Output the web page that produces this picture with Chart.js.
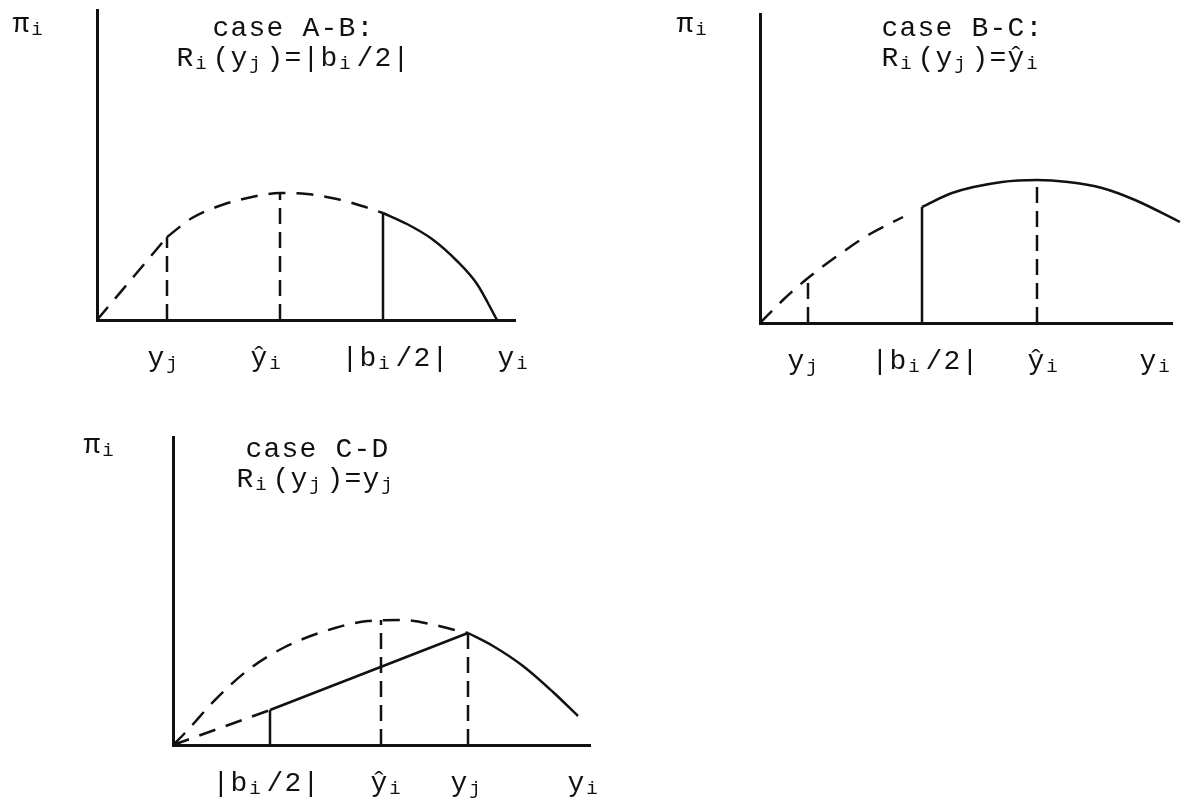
<!DOCTYPE html>
<html lang="en">
<head>
    <meta charset="UTF-8">
    <title>Profit cases A-B, B-C, C-D</title>
    <script src="https://cdn.jsdelivr.net/npm/chart.js"></script>
    <style>
        body { margin: 0; background: #fff; overflow: hidden; }
        canvas { position: absolute; }
    </style>
</head>
<body>
    <canvas id="caseAB" width="598" height="400" style="left:0;top:0"></canvas>
    <canvas id="caseBC" width="598" height="400" style="left:598px;top:0"></canvas>
    <canvas id="caseCD" width="598" height="401" style="left:0;top:400px"></canvas>

    <script>
        // case A-B: R_i(y_j) = |b_i/2|
        const aLabels = ['y_j', 'ŷ_i', '|b_i/2|', 'y_i'];
        const aLabelAt = [6.8, 17.1, 29.8, 41.8];
        const aRayX = [0, 7.0];
        const aRayY = [0, 8.3];
        const aDashX = [7.0, 9.5, 12.5, 15.5, 18.3, 21.0, 24.0, 26.5, 28.6];
        const aDashY = [8.3, 10.2, 11.5, 12.3, 12.7, 12.6, 12.1, 11.4, 10.7];
        const aSolidX = [28.6, 31.0, 33.5, 36.0, 38.0, 40.0];
        const aSolidY = [10.7, 9.6, 8.1, 5.9, 3.6, 0];
        const aMarkX = [7.0, 18.3, 28.6];
        const aMarkY = [8.3, 12.7, 10.7];
        const aMarkSolid = [false, false, true];

        // case B-C: R_i(y_j) = ŷ_i
        const bLabels = ['y_j', '|b_i/2|', 'ŷ_i', 'y_i'];
        const bLabelAt = [4.5, 16.5, 28.5, 39.7];
        const bDashX = [0, 2.4, 4.8, 8.0, 11.0, 14.3];
        const bDashY = [0, 2.4, 4.5, 6.9, 8.9, 10.6];
        const bSolidX = [16.2, 19.2, 24.2, 27.7, 30.8, 34.2, 37.5, 42.0];
        const bSolidY = [11.6, 13.0, 14.1, 14.3, 14.1, 13.5, 12.3, 10.1];
        const bMarkX = [4.8, 16.2, 27.7];
        const bMarkY = [4.5, 11.6, 14.3];
        const bMarkSolid = [false, true, false];

        // case C-D: R_i(y_j) = y_j
        const cLabels = ['|b_i/2|', 'ŷ_i', 'y_j', 'y_i'];
        const cLabelAt = [9.3, 21.5, 29.5, 41.2];
        const cDashX = [0, 1.2, 4.2, 7.5, 11.2, 16.2, 19.5, 22.9, 26.2, 28.2, 29.5];
        const cDashY = [0, 1.2, 4.5, 7.5, 9.8, 11.7, 12.4, 12.5, 12.0, 11.5, 11.2];
        const cRayX = [0, 9.7];
        const cRayY = [0, 3.5];
        const cLineX = [9.7, 29.5];
        const cLineY = [3.5, 11.2];
        const cSolidX = [29.5, 32.0, 35.0, 38.0, 40.5];
        const cSolidY = [11.2, 9.9, 7.9, 5.3, 2.9];
        const cMarkX = [9.7, 20.8, 29.5];
        const cMarkY = [3.5, 12.5, 11.2];
        const cMarkSolid = [true, false, false];

        const FONT = '"Liberation Mono", "DejaVu Sans Mono", monospace';
        const MAIN_PX = 28, SUB_PX = 19;
        const CELL = 18;   // typewriter pitch, subscripts take a full cell too
        const INK = '#111';

        // "y_j" -> y with subscript j
        function splitRuns(text) {
            let out = [];
            for (let i = 0; i < text.length; i++) {
                if (text[i] === '_') {
                    out.push({ s: text[i + 1], sub: true });
                    i++;
                } else if (out.length && !out[out.length - 1].sub) {
                    out[out.length - 1].s += text[i];
                } else {
                    out.push({ s: text[i], sub: false });
                }
            }
            return out;
        }

        function drawRich(ctx, text, x, y, align) {
            let parts = splitRuns(text);
            let width = parts.reduce((w, p) => w + p.s.length * CELL, 0);
            let cx = align === 'center' ? x - width / 2 : x;
            ctx.textAlign = 'left';
            ctx.textBaseline = 'alphabetic';
            parts.forEach(p => {
                let px = p.sub ? SUB_PX : MAIN_PX;
                let gap = CELL - 0.6 * px;
                ctx.font = px + 'px ' + FONT;
                ctx.letterSpacing = gap + 'px';
                ctx.fillText(p.s, cx + gap / 2 - (p.sub ? 2 : 0), y + (p.sub ? 3 : 0));
                cx += p.s.length * CELL;
            });
            ctx.letterSpacing = '0px';
        }

        const textPlugin = {
            id: 'sketchText',
            afterDraw(chart, args, o) {
                let ctx = chart.ctx;
                let area = chart.chartArea;
                let xs = chart.scales.x;
                ctx.save();
                ctx.fillStyle = INK;
                drawRich(ctx, 'π_i', o.piX, o.piY, 'left');
                o.title.forEach((t, i) => drawRich(ctx, t, o.titleX, o.titleY[i], 'center'));
                o.labels.forEach((t, i) => {
                    drawRich(ctx, t, xs.getPixelForValue(o.labelAt[i]), area.bottom + 46, 'center');
                });
                ctx.restore();
            }
        };

        function pts(xs, ys) {
            return xs.map((x, i) => ({ x: x, y: ys[i] }));
        }

        function curve(xs, ys, dashed) {
            return {
                data: pts(xs, ys),
                borderColor: INK,
                borderWidth: 2.5,
                borderDash: dashed ? [17, 11] : [],
                cubicInterpolationMode: 'monotone',
                pointRadius: 0,
                showLine: true,
                fill: false,
                clip: false
            };
        }

        function marks(xs, ys, solid) {
            return xs.map((x, i) => ({
                data: [{ x: x, y: 0 }, { x: x, y: ys[i] }],
                borderColor: INK,
                borderWidth: 2.5,
                borderDash: solid[i] ? [] : [16, 8],
                pointRadius: 0,
                showLine: true,
                fill: false,
                clip: false
            }));
        }

        function axis(max) {
            return {
                type: 'linear',
                min: 0,
                max: max,
                grid: { display: false, drawTicks: false },
                ticks: { display: false },
                border: { display: true, color: INK, width: 3 }
            };
        }

        function makePanel(id, datasets, xMax, yMax, padding, text) {
            return new Chart(document.getElementById(id), {
                type: 'scatter',
                data: { datasets: datasets },
                plugins: [textPlugin],
                options: {
                    responsive: false,
                    animation: false,
                    layout: { padding: padding },
                    scales: { x: axis(xMax), y: axis(yMax) },
                    plugins: {
                        legend: { display: false },
                        tooltip: { enabled: false },
                        sketchText: text
                    }
                }
            });
        }

        makePanel('caseAB', [
            curve(aRayX, aRayY, true),
            curve(aDashX, aDashY, true),
            curve(aSolidX, aSolidY, false),
            ...marks(aMarkX, aMarkY, aMarkSolid)
        ], 41.8, 31, { left: 97, top: 10, right: 83, bottom: 80 }, {
            piX: 12, piY: 32,
            title: ['case A-B:', 'R_i(y_j)=|b_i/2|'], titleX: 293, titleY: [36, 66],
            labels: aLabels, labelAt: aLabelAt
        });

        makePanel('caseBC', [
            curve(bDashX, bDashY, true),
            curve(bSolidX, bSolidY, false),
            ...marks(bMarkX, bMarkY, bMarkSolid)
        ], 41.2, 30.9, { left: 162, top: 14, right: 24, bottom: 77 }, {
            piX: 78, piY: 32,
            title: ['case B-C:', 'R_i(y_j)=ŷ_i'], titleX: 364, titleY: [36, 66],
            labels: bLabels, labelAt: bLabelAt
        });

        makePanel('caseCD', [
            curve(cDashX, cDashY, true),
            curve(cRayX, cRayY, true),
            curve(cLineX, cLineY, false),
            curve(cSolidX, cSolidY, false),
            ...marks(cMarkX, cMarkY, cMarkSolid)
        ], 41.7, 30.8, { left: 173, top: 37, right: 8, bottom: 56 }, {
            piX: 83, piY: 53,
            title: ['case C-D', 'R_i(y_j)=y_j'], titleX: 317, titleY: [57, 87],
            labels: cLabels, labelAt: cLabelAt
        });
    </script>
</body>
</html>
